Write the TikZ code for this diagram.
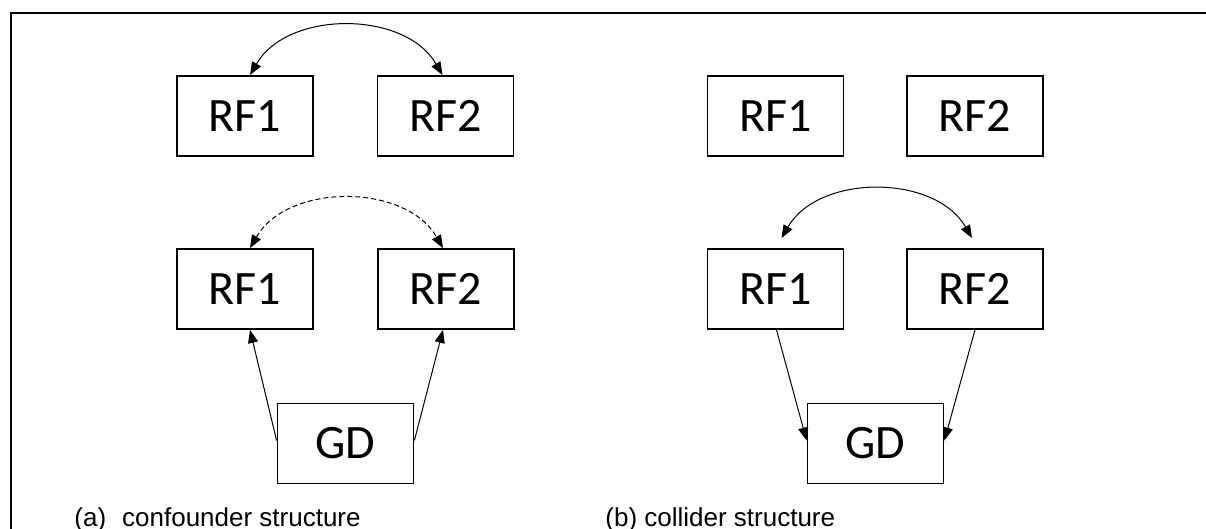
\documentclass[tikz,border=0pt]{standalone}
\usepackage{fontspec}
\setmainfont{Carlito}
\newfontfamily\capfont{Liberation Sans}
\usetikzlibrary{arrows.meta}
\tikzset{
  box/.style={draw, line width=0.9pt, minimum width=68pt, minimum height=40pt, inner sep=0pt, font=\fontsize{24pt}{28pt}\selectfont},
  arr/.style={line width=0.5pt, -{Triangle[length=6.5pt,width=5pt]}},
  darr/.style={line width=0.5pt, {Triangle[length=6.5pt,width=5pt]}-{Triangle[length=6.5pt,width=5pt]}},
  captext/.style={anchor=base west, inner sep=0pt, font=\capfont\fontsize{13pt}{15pt}\selectfont},
  frameline/.style={line width=1.1pt}
}
\begin{document}
\begin{tikzpicture}[x=0.5pt,y=-0.5pt]
\useasboundingbox (0,0) rectangle (1206,529);
\draw[frameline] (1206,13) -- (11,13) -- (11,529);
% (a)
\node[box] (a1) at (245,116) {RF1};
\node[box] (a2) at (445.5,116) {RF2};
\node[box] (a3) at (245,289) {RF1};
\node[box] (a4) at (446,289) {RF2};
\node[box] (ga) at (345.5,443.5) {GD};
\draw[darr] ([xshift=2.5pt]a1.north) to[out=60,in=120] ([xshift=-1.5pt]a2.north);
\draw[darr, dash pattern=on 2.5pt off 1.5pt] ([xshift=2.5pt]a3.north) to[out=60,in=120] ([xshift=-1.5pt]a4.north);
\draw[arr] ([yshift=1.5pt]ga.west) -- ([xshift=2.5pt]a3.south);
\draw[arr] ([yshift=1.5pt]ga.east) -- ([xshift=-1.5pt]a4.south);
% (b)
\node[box] (b1) at (775.5,116) {RF1};
\node[box] (b2) at (975,116) {RF2};
\node[box] (b3) at (775.5,289) {RF1};
\node[box] (b4) at (975,289) {RF2};
\node[box] (gb) at (875.5,443.5) {GD};
\draw[darr] ([xshift=3pt,yshift=5pt]b3.north) to[out=60,in=120] ([xshift=-1.5pt,yshift=5pt]b4.north);
\draw[arr] ([xshift=0.5pt]b3.south) -- ([yshift=1.5pt]gb.west);
\draw[arr] (b4.south) -- ([yshift=1.5pt]gb.east);
% captions
\node[captext] (capa) at (74,526) {(a)\hspace{8pt}confounder structure};
\node[captext] (capb) at (605,526) {(b) collider structure};
\end{tikzpicture}
\end{document}
